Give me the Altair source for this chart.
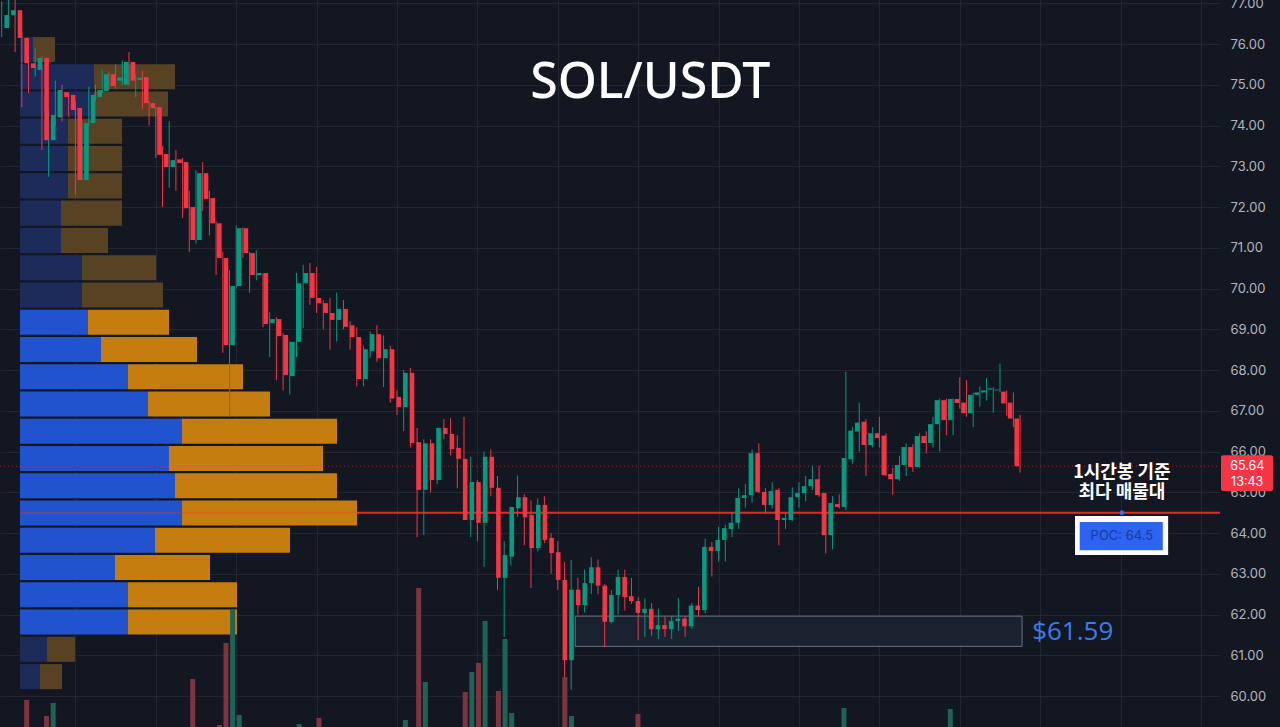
import altair as alt
import pandas as pd

# ---------------- data ----------------
OPEN = [76.39, 76.71, 76.83, 76.15, 75.53, 75.36, 75.66, 73.64, 74.20, 74.82,
        74.75, 74.43, 72.66, 74.06, 74.70, 74.85, 75.26, 75.10, 75.00, 75.56,
        75.12, 75.19, 74.55, 74.45, 73.30, 72.98, 73.17, 73.10, 72.00, 71.19,
        72.83, 72.22, 71.60, 70.75, 68.61, 70.06, 71.48, 70.87, 70.33, 70.38,
        69.15, 69.25, 68.86, 67.85, 68.69, 70.13, 70.38, 69.77, 69.64, 69.40,
        69.23, 69.50, 69.10, 68.81, 67.78, 68.47, 68.88, 68.29, 68.51, 67.34,
        67.09, 67.93, 66.23, 65.06, 66.20, 65.30, 66.58, 66.43, 66.09, 65.82,
        64.32, 65.25, 64.25, 65.87, 65.11, 62.90, 63.42, 64.61, 64.88, 64.44,
        63.63, 64.69, 63.88, 63.53, 62.85, 60.88, 62.61, 62.23, 62.77, 63.16,
        62.71, 61.82, 62.48, 62.92, 62.45, 62.33, 62.04, 62.14, 61.64, 61.74,
        61.64, 61.84, 61.90, 61.71, 62.22, 62.11, 63.66, 63.56, 63.83, 64.10,
        64.25, 64.86, 64.93, 65.96, 65.01, 64.69, 65.06, 64.32, 64.32, 64.88,
        64.98, 65.15, 65.32, 64.98, 63.95, 64.71, 64.64, 65.81, 66.49, 66.73,
        66.16, 66.45, 66.39, 65.45, 65.32, 65.67, 66.11, 65.62, 66.38, 66.21,
        66.67, 67.26, 66.77, 67.29, 67.20, 66.94, 67.39, 67.45, 67.52, 67.50,
        67.47, 67.20, 66.81]
CLOSE = [76.71, 76.83, 76.15, 75.53, 75.41, 75.66, 73.64, 74.26, 74.87, 74.70,
         74.38, 72.66, 74.06, 74.75, 74.87, 75.26, 74.97, 75.18, 75.56, 75.10,
         75.17, 74.55, 74.43, 73.28, 72.98, 73.15, 73.08, 71.97, 71.19, 72.83,
         72.20, 71.60, 70.75, 68.61, 70.06, 71.48, 70.87, 70.33, 70.38, 69.13,
         69.25, 68.83, 67.88, 68.69, 70.13, 70.38, 69.77, 69.64, 69.40, 69.23,
         69.50, 69.06, 68.81, 67.78, 68.51, 68.88, 68.29, 68.51, 67.30, 67.09,
         67.93, 66.21, 65.06, 66.20, 65.30, 66.58, 66.43, 66.06, 65.82, 64.32,
         65.25, 64.25, 65.87, 65.11, 62.90, 63.46, 64.64, 64.88, 64.39, 63.63,
         64.69, 63.83, 63.51, 62.85, 60.88, 62.61, 62.23, 62.77, 63.16, 62.71,
         61.82, 62.48, 62.92, 62.43, 62.33, 62.04, 62.14, 61.64, 61.74, 61.64,
         61.84, 61.90, 61.71, 62.22, 62.11, 63.66, 63.56, 63.83, 64.12, 64.25,
         64.86, 64.93, 65.96, 65.01, 64.69, 65.03, 64.32, 64.37, 64.88, 64.98,
         65.15, 65.32, 64.93, 63.95, 64.74, 64.64, 65.84, 66.51, 66.71, 66.16,
         66.45, 66.33, 65.42, 65.32, 65.67, 66.11, 65.62, 66.38, 66.21, 66.67,
         67.26, 66.77, 67.29, 67.19, 66.94, 67.39, 67.45, 67.50, 67.55, 67.52,
         67.18, 66.81, 65.64]
HIGH = [77.05, 77.08, 77.10, 76.30, 75.90, 75.90, 75.70, 74.40, 75.10, 75.00,
        74.80, 74.60, 74.10, 74.95, 75.00, 75.36, 75.30, 75.50, 75.60, 75.80,
        75.26, 75.35, 74.60, 74.45, 73.50, 74.10, 73.40, 73.20, 72.40, 72.90,
        73.10, 72.40, 71.65, 70.90, 70.45, 71.55, 71.50, 70.90, 70.94, 70.38,
        69.42, 69.30, 68.90, 68.70, 70.38, 70.58, 70.63, 70.53, 69.72, 69.77,
        69.90, 69.72, 69.20, 69.05, 68.60, 68.95, 69.10, 68.85, 68.60, 67.50,
        68.00, 68.05, 66.58, 66.30, 66.30, 66.58, 66.80, 66.82, 66.40, 66.85,
        65.87, 65.30, 66.00, 66.05, 65.40, 63.80, 64.64, 65.41, 64.95, 64.80,
        64.85, 64.90, 64.00, 63.80, 63.30, 63.34, 62.90, 63.10, 63.40, 63.35,
        62.75, 62.60, 63.10, 63.10, 62.90, 62.43, 62.40, 62.28, 62.15, 61.95,
        61.95, 62.40, 61.96, 62.28, 62.68, 63.86, 63.78, 64.15, 64.20, 64.50,
        65.10, 65.20, 66.05, 66.20, 65.10, 65.25, 65.10, 64.50, 65.12, 65.25,
        65.40, 65.65, 65.65, 64.98, 64.90, 64.95, 67.96, 66.60, 67.20, 66.80,
        66.60, 66.85, 66.45, 65.60, 65.90, 66.20, 66.18, 66.45, 66.50, 66.85,
        67.30, 67.30, 67.30, 67.82, 67.75, 67.44, 67.60, 67.80, 67.58, 68.16,
        67.50, 67.45, 66.90]
LOW = [76.17, 76.50, 75.80, 74.45, 74.80, 75.20, 73.40, 72.74, 74.00, 74.10,
       74.20, 72.30, 72.66, 74.00, 74.60, 74.80, 74.88, 74.90, 75.00, 75.00,
       74.70, 74.40, 74.00, 73.20, 72.00, 72.47, 72.40, 71.73, 70.90, 71.10,
       71.90, 71.30, 70.33, 68.42, 66.85, 70.00, 70.75, 69.90, 70.20, 69.05,
       68.32, 67.75, 67.50, 67.40, 68.32, 69.03, 69.60, 69.40, 69.00, 68.50,
       68.70, 69.00, 68.50, 67.60, 67.60, 68.30, 68.20, 67.58, 67.20, 66.90,
       66.50, 66.10, 63.90, 63.95, 65.00, 65.20, 66.30, 65.90, 65.10, 64.32,
       63.90, 63.80, 63.17, 64.90, 62.60, 61.45, 63.20, 64.40, 63.70, 62.65,
       63.55, 63.75, 63.00, 62.60, 60.47, 60.15, 62.00, 62.05, 62.50, 62.50,
       61.20, 61.78, 62.00, 62.10, 62.26, 61.37, 61.45, 61.48, 61.40, 61.45,
       61.40, 61.60, 61.45, 61.65, 61.95, 62.03, 62.93, 63.30, 63.30, 63.90,
       64.10, 64.62, 64.75, 64.98, 64.48, 64.60, 63.70, 64.10, 64.30, 64.62,
       64.78, 65.05, 64.88, 63.50, 63.60, 64.60, 64.55, 65.70, 66.00, 65.40,
       66.10, 66.10, 65.40, 64.94, 65.28, 65.40, 65.50, 65.60, 65.95, 66.10,
       66.00, 66.40, 66.40, 67.05, 66.85, 66.60, 67.10, 67.25, 66.95, 67.45,
       66.88, 66.60, 65.48]

# visible part of the volume histogram (relative units), candle index -> value
VOL_IDX = [3, 6, 7, 28, 32, 33, 34, 35, 44, 47, 60, 62, 63, 69, 70, 71, 72, 74, 75, 76, 84, 85, 95, 126, 142]
VOL_VAL = [27, 11, 24, 48, 2, 84, 118, 12, 3, 9, 7, 139, 45, 35, 55, 64, 106, 36, 88, 14, 50, 11, 13, 19, 18]

# volume profile, bottom row first (buy / sell, relative units); value-area flag
PROFILE_LOW = 60.17
PROFILE_STEP = 0.669
PROFILE_BUY = [20, 27, 108, 108, 95, 135, 162, 155, 149, 162, 128, 108, 81, 68,
               62, 62, 41, 41, 48, 48, 48, 74, 74, 13]
PROFILE_SELL = [22, 28, 109, 109, 95, 135, 175, 162, 154, 155, 122, 115, 96, 81,
                81, 74, 47, 61, 54, 54, 54, 74, 81, 22]
PROFILE_VA = [False, False] + [True] * 12 + [False] * 10

POC = 64.5
LAST_PRICE = 65.64
LAST_TIME = "13:43"
ZONE_LOW, ZONE_HIGH = 61.22, 61.96
ZONE_LABEL = "$61.59"
TITLE = "SOL/USDT"
NOTE_LINES = ["1시간봉 기준", "최다 매물대"]
POC_LABEL = "POC: 64.5"
PRICE_TICKS = list(range(60, 78))
GRID_X = list(range(11, 182, 12))

# ---------------- styling ----------------
BG = "#131722"
GRID = "#222633"
UP = "#089981"
DOWN = "#f23645"
W, H = 1220, 727
X_DOM = [-0.254, 181.84]
Y_DOM = [59.24, 77.08]


def xs():
    return alt.Scale(domain=X_DOM, nice=False, zero=False)


def ys():
    return alt.Scale(domain=Y_DOM, nice=False, zero=False)


candles = pd.DataFrame({"i": list(range(len(OPEN))), "open": OPEN, "high": HIGH,
                        "low": LOW, "close": CLOSE})
candles["dir"] = ["up" if c >= o else "down" for o, c in zip(OPEN, CLOSE)]
dir_color = alt.Color("dir:N", scale=alt.Scale(domain=["up", "down"], range=[UP, DOWN]), legend=None)

# axes / grid layer
axes = alt.Chart(candles).mark_point(opacity=0).encode(
    x=alt.X("i:Q", scale=xs(), axis=alt.Axis(values=GRID_X, grid=True, gridColor=GRID, gridWidth=1,
                                             labels=False, ticks=False, domain=False, title=None)),
    y=alt.Y("low:Q", scale=ys(), axis=alt.Axis(orient="right", values=PRICE_TICKS, format=".2f", grid=True,
                                               gridColor=GRID, gridWidth=1, ticks=False, domain=False,
                                               labelColor="#b2b5be", labelFontSize=13, labelFont="Inter",
                                               labelPadding=10, title=None, labelOverlap=False,
                                               labelFlush=False, labelBound=False)),
)

# zone rectangle
zone_df = pd.DataFrame({"x": [85.6], "x2": [152.3], "lo": [ZONE_LOW], "hi": [ZONE_HIGH]})
zone = alt.Chart(zone_df).mark_rect(fill="#1a2230", stroke="#7f8797", strokeWidth=1, strokeOpacity=0.8).encode(
    x=alt.X("x:Q", scale=xs(), axis=None), x2="x2:Q",
    y=alt.Y("lo:Q", scale=ys(), axis=None), y2="hi:Q")

# POC line
poc_df = pd.DataFrame({"x": [2.73], "x2": [X_DOM[1]], "p": [POC]})
poc_line = alt.Chart(poc_df).mark_rule(color="#e0201f", strokeWidth=2).encode(
    x=alt.X("x:Q", scale=xs(), axis=None), x2="x2:Q", y=alt.Y("p:Q", scale=ys(), axis=None))
poc_over = alt.Chart(poc_df).mark_rule(color="#ff3030", strokeWidth=2, opacity=0.3).encode(
    x=alt.X("x:Q", scale=xs(), axis=None), x2="x2:Q", y=alt.Y("p:Q", scale=ys(), axis=None))

# volume profile
rows = []
for k, (b, s, va) in enumerate(zip(PROFILE_BUY, PROFILE_SELL, PROFILE_VA)):
    lo = PROFILE_LOW + k * PROFILE_STEP
    hi = lo + PROFILE_STEP - 0.055
    rows.append({"lo": lo, "hi": hi, "a": 0, "b": b, "kind": "buy_va" if va else "buy"})
    rows.append({"lo": lo, "hi": hi, "a": b, "b": b + s, "kind": "sell_va" if va else "sell"})
prof_df = pd.DataFrame(rows)
profile = alt.Chart(prof_df).mark_rect().encode(
    x=alt.X("a:Q", scale=alt.Scale(domain=[-20, 1200], nice=False, zero=False), axis=None),
    x2="b:Q",
    y=alt.Y("lo:Q", scale=ys(), axis=None), y2="hi:Q",
    color=alt.Color("kind:N", scale=alt.Scale(domain=["buy_va", "sell_va", "buy", "sell"],
                                              range=["#2253cf", "#c47d0e", "#1d2b5b", "#574224"]),
                    legend=None))

# dotted last-price line
last_df = pd.DataFrame({"x": [X_DOM[0]], "x2": [X_DOM[1]], "p": [LAST_PRICE]})
last_line = alt.Chart(last_df).mark_rule(color="#f23645", strokeWidth=1, strokeDash=[1, 3], opacity=0.6).encode(
    x=alt.X("x:Q", scale=xs(), axis=None), x2="x2:Q", y=alt.Y("p:Q", scale=ys(), axis=None))

# volume bars
vol_df = pd.DataFrame({"i": VOL_IDX, "v": VOL_VAL,
                       "dir": [candles.loc[i, "dir"] for i in VOL_IDX]})
volume = alt.Chart(vol_df).mark_bar(size=5).encode(
    x=alt.X("i:Q", scale=xs(), axis=None),
    y=alt.Y("v:Q", scale=alt.Scale(domain=[0, H], nice=False), axis=None),
    color=alt.Color("dir:N", scale=alt.Scale(domain=["up", "down"], range=["#1f6256", "#7c3440"]), legend=None))

# candles
wicks = alt.Chart(candles).mark_rule(strokeWidth=1).encode(
    x=alt.X("i:Q", scale=xs(), axis=None),
    y=alt.Y("low:Q", scale=ys(), axis=None), y2="high:Q", color=dir_color)
bodies = alt.Chart(candles).mark_bar(size=4.6).encode(
    x=alt.X("i:Q", scale=xs(), axis=None),
    y=alt.Y("open:Q", scale=ys(), axis=None), y2="close:Q", color=dir_color)

# annotations
def text_layer(df, **kw):
    return alt.Chart(df).mark_text(**kw).encode(
        x=alt.X("x:Q", scale=xs(), axis=None), y=alt.Y("y:Q", scale=ys(), axis=None), text="t:N")

title = text_layer(pd.DataFrame({"x": [96.8], "y": [75.04], "t": [TITLE]}),
                   font="Noto Sans", fontSize=50, fontWeight=500, color="#ffffff",
                   align="center", baseline="middle")
note = text_layer(pd.DataFrame({"x": [167.2, 167.2], "y": [65.47, 64.98], "t": NOTE_LINES}),
                  font="Noto Sans CJK KR", fontSize=18, fontWeight="bold", color="#ffffff",
                  align="center", baseline="middle")

box_df = pd.DataFrame({"x": [160.2, 160.9], "x2": [174.1, 173.3], "lo": [63.46, 63.58], "hi": [64.42, 64.27],
                       "k": ["frame", "fill"]})
poc_box = alt.Chart(box_df).mark_rect().encode(
    x=alt.X("x:Q", scale=xs(), axis=None), x2="x2:Q",
    y=alt.Y("lo:Q", scale=ys(), axis=None), y2="hi:Q",
    color=alt.Color("k:N", scale=alt.Scale(domain=["frame", "fill"], range=["#ffffff", "#2c63f0"]), legend=None))
poc_text = text_layer(pd.DataFrame({"x": [167.2], "y": [63.93], "t": [POC_LABEL]}),
                      font="Inter", fontSize=13, color="#1c3a96", align="center", baseline="middle")
poc_dot = alt.Chart(pd.DataFrame({"x": [167.2], "y": [POC]})).mark_point(
    filled=True, size=22, color="#3a6ff0", opacity=1).encode(
    x=alt.X("x:Q", scale=xs(), axis=None), y=alt.Y("y:Q", scale=ys(), axis=None))

zone_text = text_layer(pd.DataFrame({"x": [153.8], "y": [61.57], "t": [ZONE_LABEL]}),
                       font="Open Sans", fontSize=26, fontWeight=500, color="#3b7cee",
                       align="left", baseline="middle")

tag_df = pd.DataFrame({"x": [181.99], "x2": [189.75], "lo": [65.03], "hi": [65.91]})
tag = alt.Chart(tag_df).mark_rect(color="#f23645", cornerRadius=2).encode(
    x=alt.X("x:Q", scale=xs(), axis=None), x2="x2:Q",
    y=alt.Y("lo:Q", scale=ys(), axis=None), y2="hi:Q")
tag_text = text_layer(pd.DataFrame({"x": [185.9, 185.9], "y": [LAST_PRICE, 65.25],
                                    "t": [f"{LAST_PRICE:.2f}", LAST_TIME]}),
                      font="Inter", fontSize=12.5, color="#ffffff", align="center", baseline="middle")

chart = alt.layer(
    axes, zone, poc_line, profile, poc_over, last_line, volume, wicks, bodies,
    title, note, poc_box, poc_text, poc_dot, zone_text, tag, tag_text
).resolve_scale(
    x="independent", y="independent", color="independent"
).properties(
    width=W, height=H, background=BG,
    autosize=alt.AutoSizeParams(type="none"),
    padding={"left": 0, "top": 0, "right": 60, "bottom": 0},
).configure_view(strokeWidth=0)

chart.save("out.html", embed_options={"renderer": "svg", "actions": False})
